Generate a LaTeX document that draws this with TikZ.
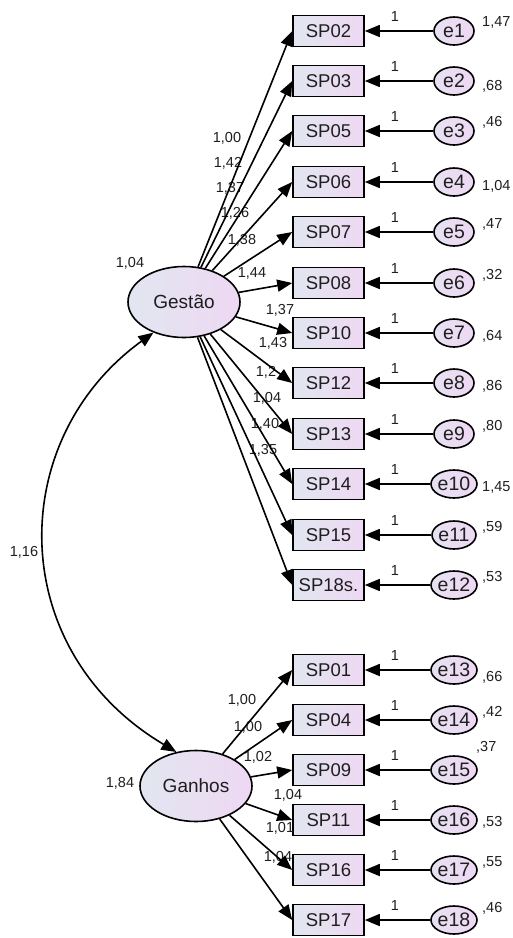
\documentclass[tikz,border=0pt]{standalone}
\usepackage{fontspec}
\setmainfont{Liberation Sans}
\usetikzlibrary{arrows.meta,shapes.geometric}
\definecolor{fillL}{RGB}{226,230,240}
\definecolor{fillR}{RGB}{238,216,243}
\definecolor{txt}{RGB}{30,30,30}
\begin{document}
\begin{tikzpicture}[x=1pt,y=-1pt,
  obs/.style={draw, line width=1.6pt, rectangle, minimum width=71pt, minimum height=31pt, inner sep=0pt, left color=fillL, right color=fillR, text=txt, font=\fontsize{18.5}{18.5}\selectfont},
  lat/.style={draw, ellipse, line width=1.6pt, minimum width=112pt, minimum height=71pt, inner sep=0pt, left color=fillL, right color=fillR, text=txt, font=\fontsize{19}{19}\selectfont},
  err/.style={draw, ellipse, line width=1.6pt, minimum width=40pt, minimum height=28pt, inner sep=0pt, left color=fillL!60!fillR, right color=fillR, text=txt, font=\fontsize{19.5}{19.5}\selectfont},
  pth/.style={line width=1.6pt, -{Triangle[length=15pt,width=12pt]}},
  dpth/.style={line width=1.6pt, {Triangle[length=15pt,width=12pt]}-{Triangle[length=15pt,width=12pt]}},
  lbl/.style={font=\fontsize{14.5}{14.5}\selectfont, inner sep=0pt, text=txt},
  vlbl/.style={lbl, anchor=west},
]
\useasboundingbox (0,0) rectangle (513,938);

% latent variables
\node[lat] (G) at (184,302) {Gestão};
\node[lat] (H) at (196,786) {Ganhos};

% observed (Gestao)
\node[obs] (sp02) at (328.5,31) {SP02};
\node[obs] (sp03) at (328.5,81) {SP03};
\node[obs] (sp05) at (328.5,131) {SP05};
\node[obs] (sp06) at (328.5,182) {SP06};
\node[obs] (sp07) at (328.5,232) {SP07};
\node[obs] (sp08) at (328.5,283) {SP08};
\node[obs] (sp10) at (328.5,333) {SP10};
\node[obs] (sp12) at (328.5,383) {SP12};
\node[obs] (sp13) at (328.5,434) {SP13};
\node[obs] (sp14) at (328.5,484) {SP14};
\node[obs] (sp15) at (328.5,535) {SP15};
\node[obs] (sp18) at (328.5,585) {SP18s.};
% observed (Ganhos)
\node[obs] (sp01) at (328.5,670) {SP01};
\node[obs] (sp04) at (328.5,720) {SP04};
\node[obs] (sp09) at (328.5,770) {SP09};
\node[obs] (sp11) at (328.5,820) {SP11};
\node[obs] (sp16) at (328.5,870) {SP16};
\node[obs] (sp17) at (328.5,920) {SP17};

% errors
\node[err] (e1) at (454,31) {e1};
\node[err] (e2) at (454,81) {e2};
\node[err] (e3) at (454,131) {e3};
\node[err] (e4) at (454,182) {e4};
\node[err] (e5) at (454,232) {e5};
\node[err] (e6) at (454,283) {e6};
\node[err] (e7) at (454,333) {e7};
\node[err] (e8) at (454,383) {e8};
\node[err] (e9) at (454,434) {e9};
\node[err] (e10) at (454,484) {e10};
\node[err] (e11) at (454,535) {e11};
\node[err] (e12) at (454,585) {e12};
\node[err] (e13) at (454,670) {e13};
\node[err] (e14) at (454,720) {e14};
\node[err] (e15) at (454,770) {e15};
\node[err] (e16) at (454,820) {e16};
\node[err] (e17) at (454,870) {e17};
\node[err] (e18) at (454,920) {e18};

% error variances
\node[vlbl] (v1) at (482,22) {1,47};
\node[vlbl] (v2) at (482,86) {,68};
\node[vlbl] (v3) at (482,122) {,46};
\node[vlbl] (v4) at (482,186) {1,04};
\node[vlbl] (v5) at (482,224) {,47};
\node[vlbl] (v6) at (482,275) {,32};
\node[vlbl] (v7) at (482,336) {,64};
\node[vlbl] (v8) at (482,386) {,86};
\node[vlbl] (v9) at (482,426) {,80};
\node[vlbl] (v10) at (482,487) {1,45};
\node[vlbl] (v11) at (482,527) {,59};
\node[vlbl] (v12) at (482,577) {,53};
\node[vlbl] (v13) at (482,677) {,66};
\node[vlbl] (v14) at (482,712) {,42};
\node[vlbl] (v15) at (476,747) {,37};
\node[vlbl] (v16) at (482,822) {,53};
\node[vlbl] (v17) at (482,862) {,55};
\node[vlbl] (v18) at (482,908) {,46};

% fixed "1" labels
\foreach \n/\y in {a/31,b/81,c/131,d/182,e/232,f/283,g/333,h/383,i/434,j/484,k/535,l/585,m/670,n/720,o/770,p/820,q/870,r/920}
  \node[lbl] (one\n) at (395,\y-14) {1};

% latent variances and covariance
\node[lbl] (vG) at (130,263) {1,04};
\node[lbl] (vH) at (120,783) {1,84};
\node[lbl] (cov) at (24,552) {1,16};

% loadings Gestao
\node[lbl] (l1) at (227,138) {1,00};
\node[lbl] (l2) at (228,163) {1,42};
\node[lbl] (l3) at (230,188) {1,37};
\node[lbl] (l4) at (235,213) {1,26};
\node[lbl] (l5) at (242,240) {1,38};
\node[lbl] (l6) at (252,273) {1,44};
\node[lbl] (l7) at (280,310) {1,37};
\node[lbl] (l8) at (273,343) {1,43};
\node[lbl] (l9) at (266,372) {1,2};
\node[lbl] (l10) at (267,398) {1,04};
\node[lbl] (l11) at (265,424) {1,40};
\node[lbl] (l12) at (263,450) {1,35};
% loadings Ganhos
\node[lbl] (m1) at (242,700) {1,00};
\node[lbl] (m2) at (248,727) {1,00};
\node[lbl] (m3) at (258,757) {1,02};
\node[lbl] (m4) at (288,795) {1,04};
\node[lbl] (m5) at (280,828) {1,01};
\node[lbl] (m6) at (278,857) {1,04};

% paths
\foreach \s in {sp02,sp03,sp05,sp06,sp07,sp08,sp10,sp12,sp13,sp14,sp15,sp18}
  \draw[pth] (G) -- (\s.west);
\foreach \s in {sp01,sp04,sp09,sp11,sp16,sp17}
  \draw[pth] (H) -- (\s.west);
\foreach \e/\s in {e1/sp02,e2/sp03,e3/sp05,e4/sp06,e5/sp07,e6/sp08,e7/sp10,e8/sp12,e9/sp13,e10/sp14,e11/sp15,e12/sp18,e13/sp01,e14/sp04,e15/sp09,e16/sp11,e17/sp16,e18/sp17}
  \draw[pth] (\e) -- (\s);

% covariance
\draw[dpth] (G.225) .. controls (5,440) and (5,650) .. (H.120);
\end{tikzpicture}
\end{document}
